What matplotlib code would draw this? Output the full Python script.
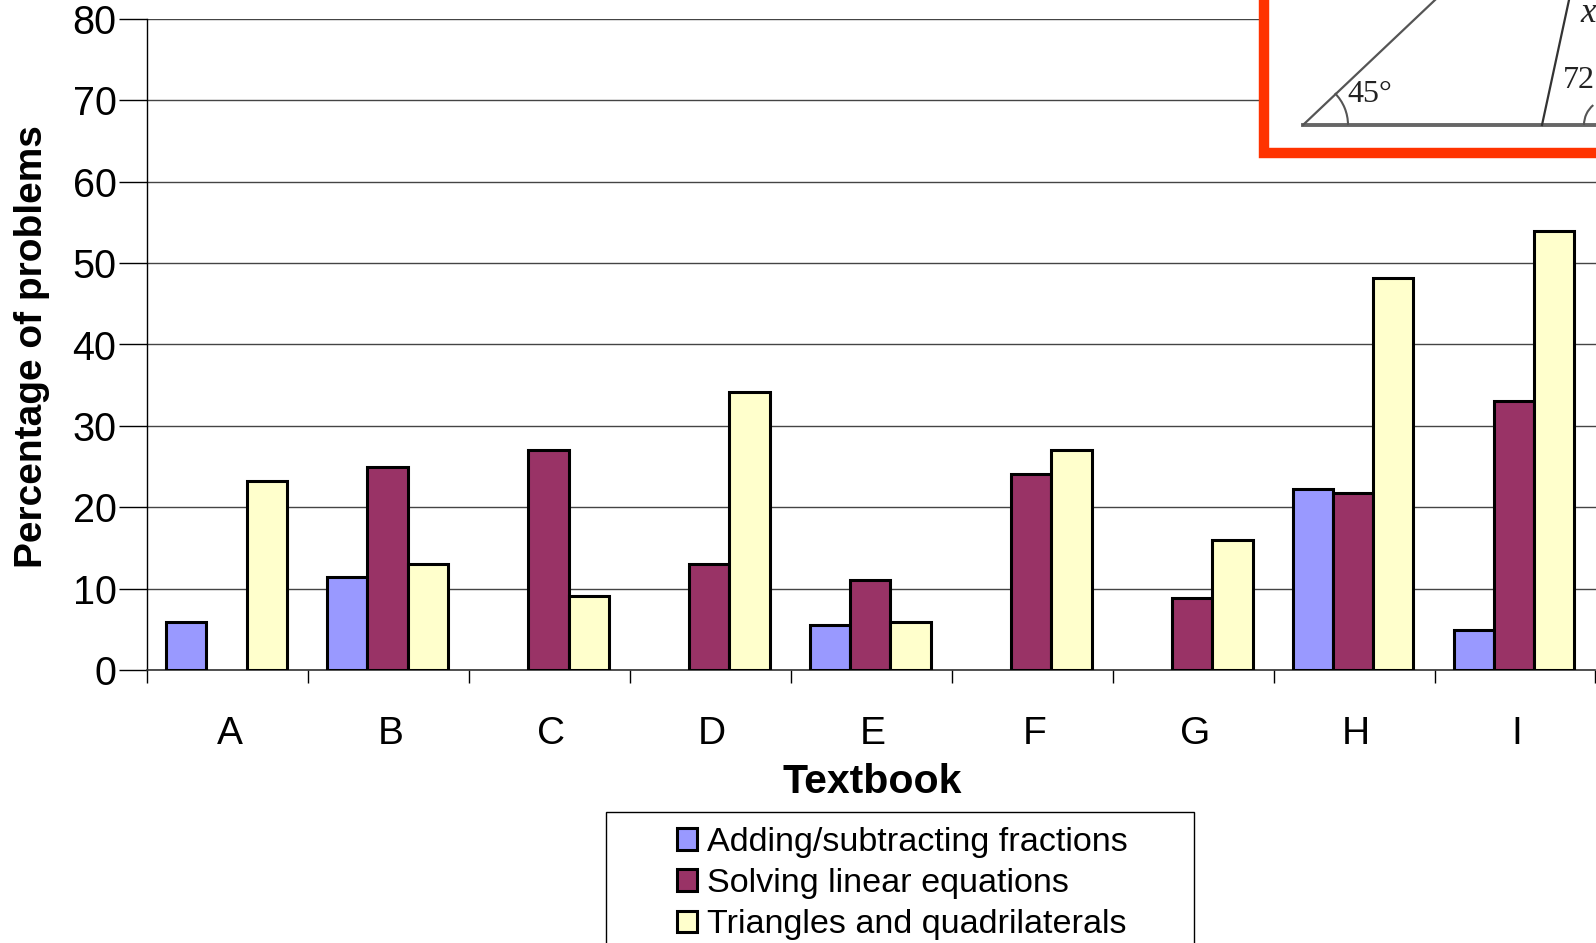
import numpy as np
import matplotlib
matplotlib.use('Agg')
import matplotlib.pyplot as plt
from matplotlib.patches import Rectangle, Arc

plt.rcParams['font.family'] = ['Liberation Sans', 'DejaVu Sans']

TEXTBOOKS = ['A', 'B', 'C', 'D', 'E', 'F', 'G', 'H', 'I']
FRACTIONS = [5.9, 11.4, 0, 0, 5.5, 0, 0, 22.2, 4.9]
EQUATIONS = [0, 25.0, 27.0, 13.0, 11.0, 24.1, 8.8, 21.8, 33.0]
TRIANGLES = [23.2, 13.0, 9.1, 34.2, 5.9, 27.0, 16.0, 48.2, 54.0]
SERIES_NAMES = ['Adding/subtracting fractions', 'Solving linear equations',
                'Triangles and quadrilaterals']
COLORS = ['#9999ff', '#993366', '#ffffcc']
Y_TICKS = [0, 10, 20, 30, 40, 50, 60, 70, 80]

W, H = 1596, 943
fig = plt.figure(figsize=(W / 100, H / 100), dpi=100)

# eixo em pixels da figura: x 147 -> 1595.5, y 19 -> 670
left, right, top, bottom = 147, 1595.5, 19, 670
ax = fig.add_axes([left / W, 1 - bottom / H, (right - left) / W, (bottom - top) / H])

x = np.arange(len(TEXTBOOKS)) + 0.5
bar_w = 0.25
handles = []
for i, (values, color, name) in enumerate(zip([FRACTIONS, EQUATIONS, TRIANGLES], COLORS, SERIES_NAMES)):
    # barras de valor zero não aparecem no original
    vals = np.array(values, dtype=float)
    mask = vals > 0
    bars = ax.bar(x[mask] + (i - 1) * bar_w - 0.006, vals[mask], bar_w, color=color,
                  edgecolor='black', linewidth=2.2, label=name, zorder=3)
    handles.append(bars)

ax.set_xlim(0, 9)
ax.set_ylim(0, 80)
ax.set_yticks(Y_TICKS)
ax.grid(axis='y', color='#444444', linewidth=1.0, zorder=0)
ax.set_axisbelow(True)

# separadores nas fronteiras, letras no centro de cada grupo
ax.set_xticks(np.arange(0, 10))
ax.set_xticklabels([])
ax.set_xticks(x + 0.012, minor=True)
ax.set_xticklabels(TEXTBOOKS, minor=True)
ax.tick_params(axis='x', which='major', length=9.5, width=1, direction='out')
ax.tick_params(axis='x', which='minor', length=0, pad=33, labelsize=28)
ax.tick_params(axis='y', length=20, width=1, pad=2, labelsize=28.5)

for side in ['top', 'right']:
    ax.spines[side].set_visible(False)
ax.spines['left'].set_linewidth(1)
ax.spines['bottom'].set_linewidth(1.2)
ax.spines['bottom'].set_color('#333333')

fig.text(32.5 / W, 1 - 347 / H, 'Percentage of problems', rotation=90, ha='center', va='center',
         fontsize=28, fontweight='bold')
fig.text(872.5 / W, 1 - 782 / H, 'Textbook', ha='center', va='center', fontsize=29.5, fontweight='bold')

# camada em pixels para a caixa da legenda e o recorte do problema
over = fig.add_axes([0, 0, 1, 1], facecolor='none')
over.set_xlim(0, W)
over.set_ylim(H, 0)
over.axis('off')

over.add_patch(Rectangle((606, 812), 588, 160, facecolor='white', edgecolor='black', linewidth=1))
leg = over.legend(handles=handles, loc='upper left', bbox_to_anchor=(677 / W, 1 - 827 / H),
                  frameon=False, fontsize=24.6, handlelength=0.59, handleheight=0.59,
                  handletextpad=0.28, labelspacing=0.3, borderpad=0, borderaxespad=0)

# figura inserida (trapézio) com moldura vermelha
over.add_patch(Rectangle((1264, -20), 400, 173, facecolor='white', edgecolor='#ff3300', linewidth=7.5, zorder=5))
line_color = '#555555'
over.plot([1303, 1596], [125, 125], color='#666666', linewidth=2.8, zorder=6)
over.plot([1303, 1435], [125, 0], color=line_color, linewidth=1.6, zorder=6)
over.plot([1542, 1569], [125, 0], color='#333333', linewidth=1.6, zorder=6)
over.add_patch(Arc((1303, 125), 90, 90, theta1=-45, theta2=0, color=line_color, linewidth=1.5, zorder=6))
over.add_patch(Arc((1610, 125), 52, 52, theta1=180, theta2=230, color=line_color, linewidth=1.5, zorder=6))
serif = ['Liberation Serif', 'DejaVu Serif']
over.text(1347, 95, '45°', family=serif, fontsize=23, ha='left', va='center', zorder=7, color='#222222')
over.text(1563, 81, '72', family=serif, fontsize=23, ha='left', va='center', zorder=7, color='#222222')
over.text(1580, 13, 'x', family=serif, style='italic', fontsize=25, ha='left', va='center', zorder=7, color='#222222')

fig.savefig('out.png', dpi=100)
